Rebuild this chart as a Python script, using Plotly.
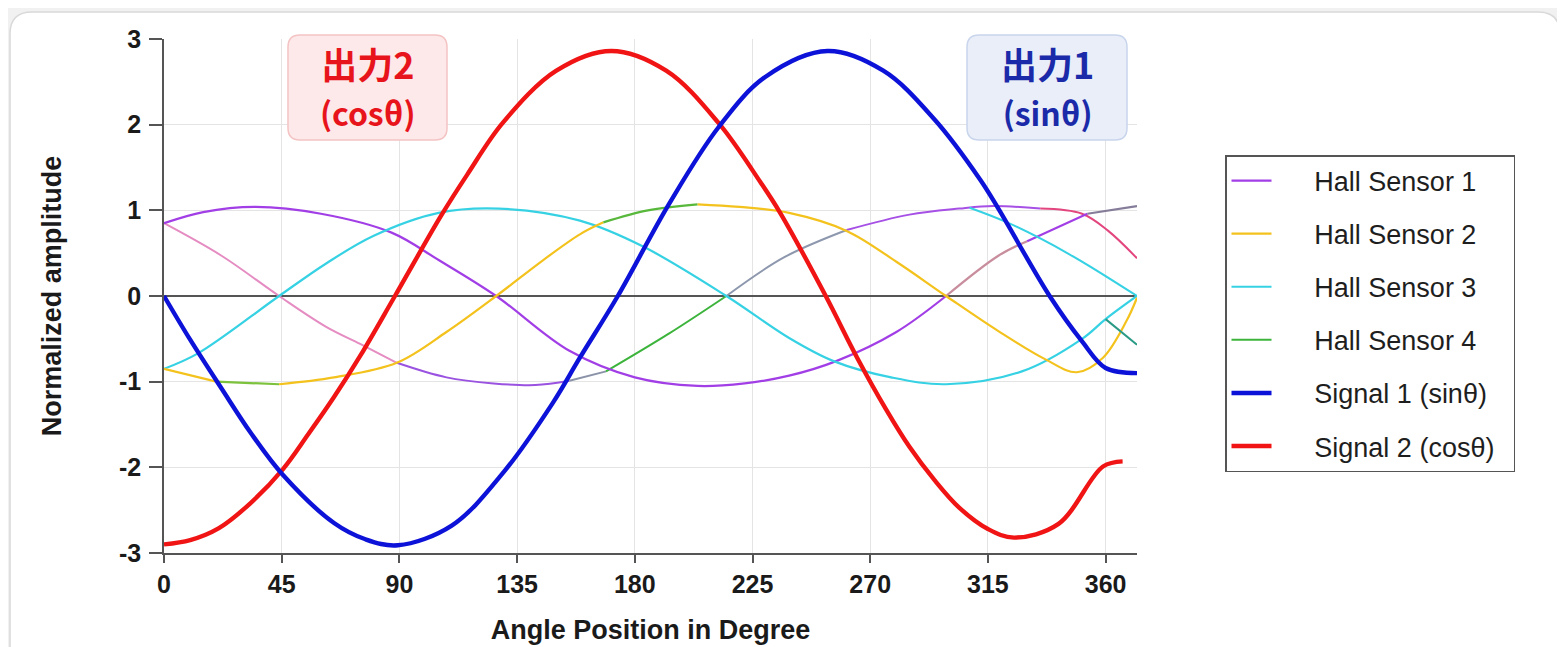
import plotly.graph_objects as go

# ---------------- data ----------------
x_ticks = [0, 45, 90, 135, 180, 225, 270, 315, 360]
x_tick_labels = ["0", "45", "90", "135", "180", "225", "270", "315", "360"]
y_ticks = [-3, -2, -1, 0, 1, 2, 3]
y_tick_labels = ["-3", "-2", "-1", "0", "1", "2", "3"]

hall1_deg = [0, 15, 35, 60, 87, 105, 127, 155, 180, 204, 222, 239, 257, 280, 299, 319, 330, 353, 372]
hall1_val = [0.85, 0.98, 1.04, 0.96, 0.74, 0.42, 0.0, -0.64, -0.95, -1.05, -1.02, -0.93, -0.76, -0.42, 0.0, 0.47, 0.64, 0.96, 1.05]

hall2_deg = [0, 20, 44, 65, 89, 108, 127, 145, 159, 168, 185, 204, 220, 239, 261, 280, 299, 319, 337, 349, 359, 368, 372]
hall2_val = [-0.85, -1.0, -1.03, -0.95, -0.78, -0.42, 0.0, 0.42, 0.72, 0.86, 1.0, 1.07, 1.04, 0.97, 0.76, 0.4, 0.0, -0.41, -0.74, -0.89, -0.72, -0.29, -0.02]

hall3_deg = [0, 13, 44, 62, 80, 105, 128, 159, 183, 215, 239, 256, 278, 299, 328, 351, 360, 372]
hall3_val = [-0.85, -0.67, 0.0, 0.38, 0.70, 0.97, 1.02, 0.88, 0.58, 0.0, -0.49, -0.76, -0.95, -1.03, -0.88, -0.50, -0.27, 0.0]

hall4_deg = [0, 22, 44, 62, 75, 89, 108, 126, 142, 155, 169, 193, 215, 237, 261, 285, 304, 317, 335, 351, 361, 372]
hall4_val = [0.85, 0.47, 0.0, -0.36, -0.56, -0.78, -0.95, -1.02, -1.04, -0.99, -0.88, -0.44, 0.0, 0.45, 0.77, 0.95, 1.02, 1.05, 1.02, 0.96, 0.76, 0.44]

# stray pieces visible near the right edge
hall3_tail_deg = [308, 323, 346, 372]
hall3_tail_val = [1.03, 0.85, 0.49, 0.0]
hall4_spur_deg = [360, 372]
hall4_spur_val = [-0.27, -0.57]

sig1_deg = [0, 10, 22, 33, 45.5, 65, 77, 89.4, 110, 130, 148.6, 159, 173.5, 193, 212, 230, 253.7, 275, 294.6, 312, 319, 338.6, 351, 360, 372]
sig1_val = [0, -0.51, -1.08, -1.59, -2.09, -2.65, -2.84, -2.91, -2.68, -2.05, -1.25, -0.72, 0, 1.07, 1.97, 2.56, 2.86, 2.63, 2.06, 1.36, 1.02, 0, -0.53, -0.84, -0.90]

sig2_deg = [0, 10, 21, 33, 45.5, 55, 65, 75, 88.3, 106, 116, 129.5, 150, 171, 192, 212, 228, 235.4, 253, 265, 276, 285, 294.6, 304, 315, 325, 342, 359, 366.5]
sig2_val = [-2.9, -2.85, -2.71, -2.42, -2.02, -1.62, -1.18, -0.70, 0, 0.94, 1.42, 2.02, 2.63, 2.86, 2.63, 2.02, 1.33, 0.98, 0, -0.72, -1.32, -1.76, -2.15, -2.47, -2.72, -2.82, -2.66, -1.99, -1.93]

series_names = ["Hall Sensor 1", "Hall Sensor 2", "Hall Sensor 3", "Hall Sensor 4",
                "Signal 1 (sinθ)", "Signal 2 (cosθ)"]

# ---------------- styles ----------------
C_H1 = "#a23ee6"
C_H2 = "#f4c21c"
C_H3 = "#36d2e4"
C_H4 = "#3cb43c"
C_S1 = "#0d12d8"
C_S2 = "#f01414"

# colour segments: (start_deg, end_deg, colour, show_in_legend)
seg_h1 = [(0, 299, C_H1, True), (299, 330, "#c98e9e", False), (330, 353, C_H1, False), (353, 372, "#857c9a", False)]
seg_h2 = [(0, 20, C_H2, True), (20, 44, "#7cc23c", False), (44, 168, C_H2, False),
          (168, 204, "#58b83c", False), (204, 372, C_H2, False)]
seg_h3 = [(0, 372, C_H3, True)]
seg_h4 = [(0, 89, "#e58cc2", False), (89, 155, "#9a52e0", False), (155, 169, "#8a93a8", False),
          (169, 215, C_H4, True), (215, 261, "#8d98ae", False), (261, 335, "#a650e6", False),
          (335, 372, "#e3467e", False)]

FONT = "Liberation Sans"
W, H = 1565, 647
OFF = 8                                    # page body margin
PX0, PX1, PY0, PY1 = 164, 1137, 39, 553   # plot area in screenshot pixels
LEG_PAD_L = "\u2002\u2002\u2009\u2009"
LEG_PAD_R = "\u2002"


def to_paper(px, py):
    return (px - PX0) / (PX1 - PX0), (PY1 - py) / (PY1 - PY0)


def rrect_path(x0, y0, x1, y1, r):
    def P(x, y):
        a, b = to_paper(x, y)
        return f"{a:.5f},{b:.5f}"
    return (f"M {P(x0 + r, y0)} L {P(x1 - r, y0)} Q {P(x1, y0)} {P(x1, y0 + r)} "
            f"L {P(x1, y1 - r)} Q {P(x1, y1)} {P(x1 - r, y1)} L {P(x0 + r, y1)} "
            f"Q {P(x0, y1)} {P(x0, y1 - r)} L {P(x0, y0 + r)} Q {P(x0, y0)} {P(x0 + r, y0)} Z")


fig = go.Figure()


def add_series(deg, val, segs, width, name, group, rank):
    for a, b, col, show in segs:
        i0, i1 = deg.index(a), deg.index(b)
        fig.add_trace(go.Scatter(
            x=deg[i0:i1 + 1], y=val[i0:i1 + 1], mode="lines",
            line=dict(color=col, width=width, shape="spline", smoothing=1.0),
            name=LEG_PAD_L + name + LEG_PAD_R, legendgroup=group, showlegend=show, legendrank=rank,
            hoverinfo="skip"))


add_series(hall4_deg, hall4_val, seg_h4, 2.0, series_names[3], "h4", 4)
add_series(hall1_deg, hall1_val, seg_h1, 2.2, series_names[0], "h1", 1)
add_series(hall3_deg, hall3_val, seg_h3, 2.2, series_names[2], "h3", 3)
add_series(hall2_deg, hall2_val, seg_h2, 2.2, series_names[1], "h2", 2)
fig.add_trace(go.Scatter(x=hall3_tail_deg, y=hall3_tail_val, mode="lines",
                         line=dict(color=C_H3, width=2.0, shape="spline"),
                         showlegend=False, legendgroup="h3", hoverinfo="skip"))
fig.add_trace(go.Scatter(x=hall4_spur_deg, y=hall4_spur_val, mode="lines",
                         line=dict(color="#2a9a86", width=2.0),
                         showlegend=False, legendgroup="h4", hoverinfo="skip"))
add_series(sig2_deg, sig2_val, [(0, 366.5, C_S2, True)], 4.4, series_names[5], "s2", 6)
add_series(sig1_deg, sig1_val, [(0, 372, C_S1, True)], 4.4, series_names[4], "s1", 5)

shapes = [
    # card
    dict(type="path", xref="paper", yref="paper", path=rrect_path(10, 12, 1560, 720, 22),
         fillcolor="white", line=dict(color="#d9d9d9", width=1.5), layer="below"),
    # label boxes
    dict(type="path", xref="paper", yref="paper", path=rrect_path(288, 35, 447, 140, 12),
         fillcolor="#fde9e9", line=dict(color="#f4c3c3", width=1.5), layer="above"),
    dict(type="path", xref="paper", yref="paper", path=rrect_path(967, 35, 1127, 140, 12),
         fillcolor="#e9eef8", line=dict(color="#c9d5ec", width=1.5), layer="above"),
]

ann = []
for (px, py, l1, l2, col) in [(368, 86, "出力2", "(cosθ)", "#e8141c"),
                              (1047, 86, "出力1", "(sinθ)", "#1b2aa8")]:
    ax_, ay_ = to_paper(px, py)
    ann.append(dict(x=ax_, y=ay_, xref="paper", yref="paper",
                    text=f"<b>{l1}</b><br><b><span style='font-size:32px'>{l2}</span></b>",
                    showarrow=False, xanchor="center", yanchor="middle",
                    font=dict(family="Noto Sans CJK JP", size=36, color=col)))

lx, ly = to_paper(1225, 155)

fig.update_layout(
    width=W, height=H,
    margin=dict(l=PX0 - OFF, r=W - (PX1 - OFF), t=PY0 - OFF, b=H - (PY1 - OFF)),
    paper_bgcolor="#f1f1f1", plot_bgcolor="white",
    shapes=shapes, annotations=ann,
    font=dict(family=FONT, color="#1e1e1e"),
    showlegend=True,
    legend=dict(x=lx, y=ly, xanchor="left", yanchor="top", bgcolor="white",
                bordercolor="#555555", borderwidth=1.5,
                font=dict(family=FONT, size=27, color="#1e1e1e"),
                tracegroupgap=15, itemwidth=40),
    xaxis=dict(range=[0, 372], tickvals=x_ticks, ticktext=x_tick_labels,
               automargin=False,
               showgrid=True, gridcolor="#e4e4e4", gridwidth=1.2,
               showline=True, linecolor="#555555", linewidth=1.5,
               ticks="outside", ticklen=8, tickcolor="#555555", tickwidth=1.5,
               tickfont=dict(family=FONT, size=25, color="#1a1a1a", weight="bold"),
               zeroline=False,
               title=dict(text="Angle Position in Degree", standoff=23,
                          font=dict(family=FONT, size=27, color="#1a1a1a", weight="bold"))),
    yaxis=dict(range=[-3, 3], tickvals=y_ticks, ticktext=y_tick_labels,
               automargin=False,
               showgrid=True, gridcolor="#e4e4e4", gridwidth=1.2,
               showline=True, linecolor="#555555", linewidth=1.5,
               ticks="outside", ticklen=13, tickcolor="#555555", tickwidth=1.5,
               ticklabelstandoff=3,
               tickfont=dict(family=FONT, size=25, color="#1a1a1a", weight="bold"),
               zeroline=True, zerolinecolor="#555555", zerolinewidth=1.5,
               title=dict(text="Normalized amplitude", standoff=50,
                          font=dict(family=FONT, size=27, color="#1a1a1a", weight="bold"))),
)

fig.write_html("out.html")
